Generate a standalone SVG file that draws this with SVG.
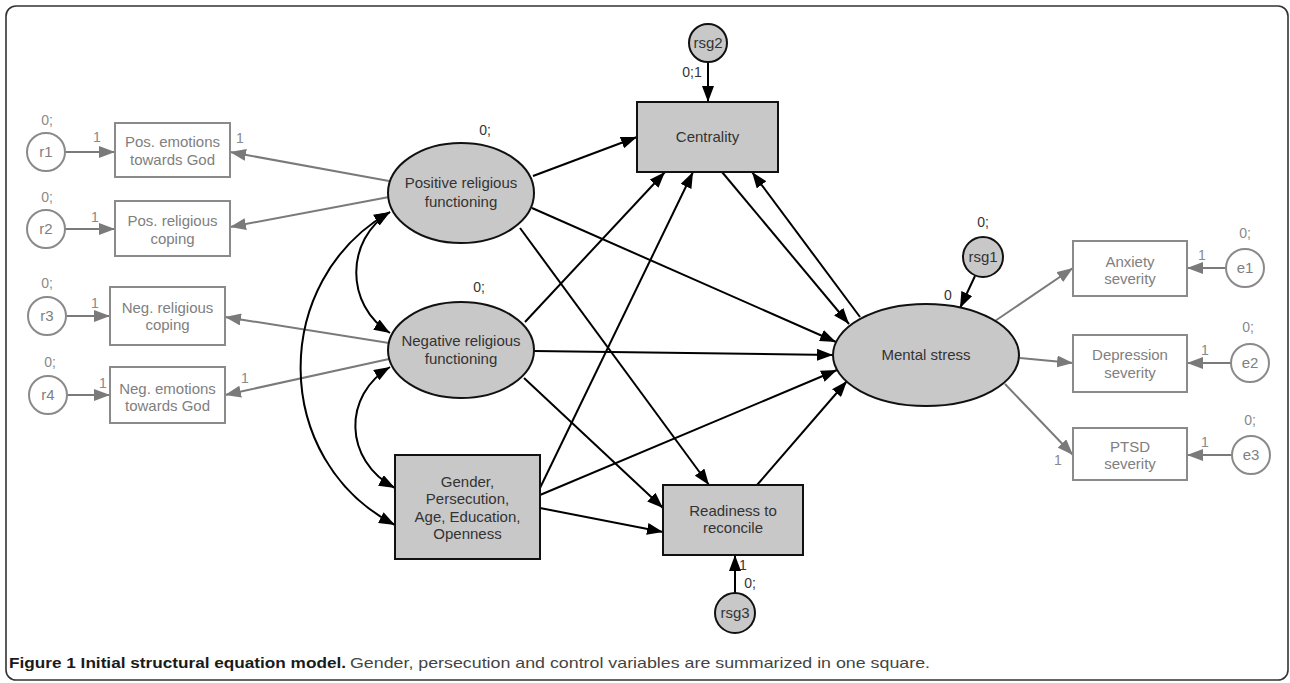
<svg xmlns="http://www.w3.org/2000/svg" width="1290" height="683" viewBox="0 0 1290 683">
<defs>
<marker id="ab" markerUnits="userSpaceOnUse" markerWidth="16" markerHeight="12" refX="16" refY="6" orient="auto-start-reverse"><path d="M0,0 L16,6 L0,12 z" fill="#000"/></marker>
<marker id="ag" markerUnits="userSpaceOnUse" markerWidth="16" markerHeight="12" refX="16" refY="6" orient="auto-start-reverse"><path d="M0,0 L16,6 L0,12 z" fill="#7a7a7a"/></marker>
<style>
text{font-family:"Liberation Sans",Arial,sans-serif;}
.t{font-size:15px;fill:#333;text-anchor:middle;}
.tg{font-size:15px;fill:#808080;text-anchor:middle;}
.lb{font-size:14px;fill:#333;text-anchor:middle;}
.lg{font-size:14px;fill:#8a8a8a;text-anchor:middle;}
.nb{fill:#c8c8c8;stroke:#111;stroke-width:2;}
.ng{fill:#fff;stroke:#8a8a8a;stroke-width:2;}
.cb{fill:none;stroke:#000;stroke-width:2;marker-end:url(#ab);}
.cc{fill:none;stroke:#000;stroke-width:2;marker-end:url(#ab);marker-start:url(#ab);}
.cg{fill:none;stroke:#7a7a7a;stroke-width:2;marker-end:url(#ag);}
</style>
</defs>
<rect x="6" y="6" width="1282" height="674" rx="10" fill="#fff" stroke="#333" stroke-width="1.6"/>

<g id="connectors">
<line class="cg" x1="65" y1="152" x2="115" y2="152"/>
<line class="cg" x1="65" y1="229" x2="115" y2="229"/>
<line class="cg" x1="66" y1="316" x2="110" y2="316"/>
<line class="cg" x1="67" y1="395" x2="110" y2="395"/>
<line class="cg" x1="389" y1="181" x2="230" y2="152"/>
<line class="cg" x1="389" y1="197" x2="230" y2="227"/>
<line class="cg" x1="389" y1="343" x2="225" y2="317"/>
<line class="cg" x1="389" y1="359" x2="225" y2="395"/>
<line class="cg" x1="992" y1="323" x2="1073" y2="268"/>
<line class="cg" x1="1020" y1="358" x2="1073" y2="363"/>
<line class="cg" x1="1005" y1="384" x2="1073" y2="455"/>
<line class="cg" x1="1226" y1="268" x2="1187" y2="268"/>
<line class="cg" x1="1231" y1="363" x2="1187" y2="363"/>
<line class="cg" x1="1232" y1="455" x2="1187" y2="455"/>
<line class="cb" x1="708" y1="62" x2="708" y2="102"/>
<line class="cb" x1="975" y1="276" x2="960" y2="308"/>
<line class="cb" x1="735" y1="593" x2="735" y2="555"/>
<line class="cb" x1="533" y1="176" x2="637" y2="137"/>
<line class="cb" x1="532" y1="208" x2="836" y2="342"/>
<line class="cb" x1="520" y1="228" x2="709" y2="485"/>
<line class="cb" x1="525" y1="322" x2="665" y2="172"/>
<line class="cb" x1="534" y1="351" x2="833" y2="355"/>
<line class="cb" x1="524" y1="378" x2="663" y2="508"/>
<line class="cb" x1="540" y1="488" x2="693" y2="172"/>
<line class="cb" x1="540" y1="495" x2="837" y2="370"/>
<line class="cb" x1="540" y1="508" x2="663" y2="532"/>
<line class="cb" x1="757" y1="485" x2="847" y2="381"/>
<line class="cb" x1="722" y1="172" x2="849" y2="324"/>
<line class="cb" x1="860" y1="317" x2="752" y2="172"/>
<path class="cc" d="M390,212 C345,240 345,305 390,333"/>
<path class="cc" d="M390,367 C343,395 343,460 395,488"/>
<path class="cc" d="M390,212 C270,280 270,460 395,525"/>
</g>

<g id="r1"><circle class="ng" cx="46" cy="152" r="19"/><text class="tg" x="46" y="157">r1</text></g>
<g id="r2"><circle class="ng" cx="46" cy="229" r="19"/><text class="tg" x="46" y="234">r2</text></g>
<g id="r3"><circle class="ng" cx="47" cy="316" r="19"/><text class="tg" x="47" y="321">r3</text></g>
<g id="r4"><circle class="ng" cx="48" cy="395" r="19"/><text class="tg" x="48" y="400">r4</text></g>

<g id="pos_emotions"><rect class="ng" x="115" y="123" width="115" height="54"/><text class="tg" x="172.5" y="147">Pos. emotions</text><text class="tg" x="172.5" y="165">towards God</text></g>
<g id="pos_coping"><rect class="ng" x="115" y="201" width="115" height="55"/><text class="tg" x="172.5" y="226">Pos. religious</text><text class="tg" x="172.5" y="244">coping</text></g>
<g id="neg_coping"><rect class="ng" x="110" y="287" width="115" height="58"/><text class="tg" x="167.5" y="313">Neg. religious</text><text class="tg" x="167.5" y="330">coping</text></g>
<g id="neg_emotions"><rect class="ng" x="110" y="367" width="115" height="56"/><text class="tg" x="167.5" y="394">Neg. emotions</text><text class="tg" x="167.5" y="411">towards God</text></g>

<g id="pos_rel"><ellipse class="nb" cx="461" cy="193" rx="73" ry="50"/><text class="t" x="461" y="188">Positive religious</text><text class="t" x="461" y="207">functioning</text></g>
<g id="neg_rel"><ellipse class="nb" cx="461" cy="350" rx="73" ry="48"/><text class="t" x="461" y="346">Negative religious</text><text class="t" x="461" y="364">functioning</text></g>
<g id="gender"><rect class="nb" x="395" y="455" width="145" height="104"/><text class="t" x="467.5" y="487">Gender,</text><text class="t" x="467.5" y="504">Persecution,</text><text class="t" x="467.5" y="522">Age, Education,</text><text class="t" x="467.5" y="539">Openness</text></g>
<g id="centrality"><rect class="nb" x="637" y="102" width="141" height="70"/><text class="t" x="707.5" y="142">Centrality</text></g>
<g id="readiness"><rect class="nb" x="663" y="485" width="140" height="70"/><text class="t" x="733" y="516">Readiness to</text><text class="t" x="733" y="533">reconcile</text></g>
<g id="mental_stress"><ellipse class="nb" cx="926" cy="355" rx="93" ry="51"/><text class="t" x="926" y="360">Mental stress</text></g>
<g id="rsg2"><circle class="nb" cx="708" cy="43" r="19"/><text class="t" x="708" y="48">rsg2</text></g>
<g id="rsg1"><circle class="nb" cx="983" cy="257" r="20"/><text class="t" x="983" y="262">rsg1</text></g>
<g id="rsg3"><circle class="nb" cx="735" cy="613" r="20"/><text class="t" x="735" y="618">rsg3</text></g>

<g id="anxiety"><rect class="ng" x="1073" y="241" width="114" height="55"/><text class="tg" x="1130" y="267">Anxiety</text><text class="tg" x="1130" y="284">severity</text></g>
<g id="depression"><rect class="ng" x="1073" y="335" width="114" height="57"/><text class="tg" x="1130" y="360">Depression</text><text class="tg" x="1130" y="378">severity</text></g>
<g id="ptsd"><rect class="ng" x="1073" y="428" width="114" height="52"/><text class="tg" x="1130" y="452">PTSD</text><text class="tg" x="1130" y="469">severity</text></g>
<g id="e1"><circle class="ng" cx="1245" cy="268" r="19"/><text class="tg" x="1245" y="273">e1</text></g>
<g id="e2"><circle class="ng" cx="1250" cy="363" r="19"/><text class="tg" x="1250" y="368">e2</text></g>
<g id="e3"><circle class="ng" cx="1251" cy="455" r="19"/><text class="tg" x="1251" y="460">e3</text></g>

<g id="labels">
<text class="lg" x="47" y="125">0;</text>
<text class="lg" x="47" y="202">0;</text>
<text class="lg" x="47" y="288">0;</text>
<text class="lg" x="50" y="367">0;</text>
<text class="lg" x="97" y="142">1</text>
<text class="lg" x="95" y="222">1</text>
<text class="lg" x="95" y="308">1</text>
<text class="lg" x="103" y="388">1</text>
<text class="lg" x="240" y="143">1</text>
<text class="lg" x="245" y="383">1</text>
<text class="lb" x="485" y="135">0;</text>
<text class="lb" x="479" y="292">0;</text>
<text class="lb" x="692" y="77">0;1</text>
<text class="lb" x="983" y="227">0;</text>
<text class="lb" x="948" y="300">0</text>
<text class="lb" x="743" y="570">1</text>
<text class="lb" x="750" y="588">0;</text>
<text class="lg" x="1245" y="238">0;</text>
<text class="lg" x="1248" y="332">0;</text>
<text class="lg" x="1250" y="425">0;</text>
<text class="lg" x="1202" y="260">1</text>
<text class="lg" x="1205" y="355">1</text>
<text class="lg" x="1205" y="447">1</text>
<text class="lg" x="1058" y="465">1</text>
</g>

<g id="caption">
<text x="9" y="668" font-size="15" font-weight="bold" fill="#1a1a1a" textLength="337" lengthAdjust="spacingAndGlyphs">Figure 1 Initial structural equation model.</text>
<text x="350" y="668" font-size="15" fill="#444" textLength="580" lengthAdjust="spacingAndGlyphs">Gender, persecution and control variables are summarized in one square.</text>
</g>
</svg>
